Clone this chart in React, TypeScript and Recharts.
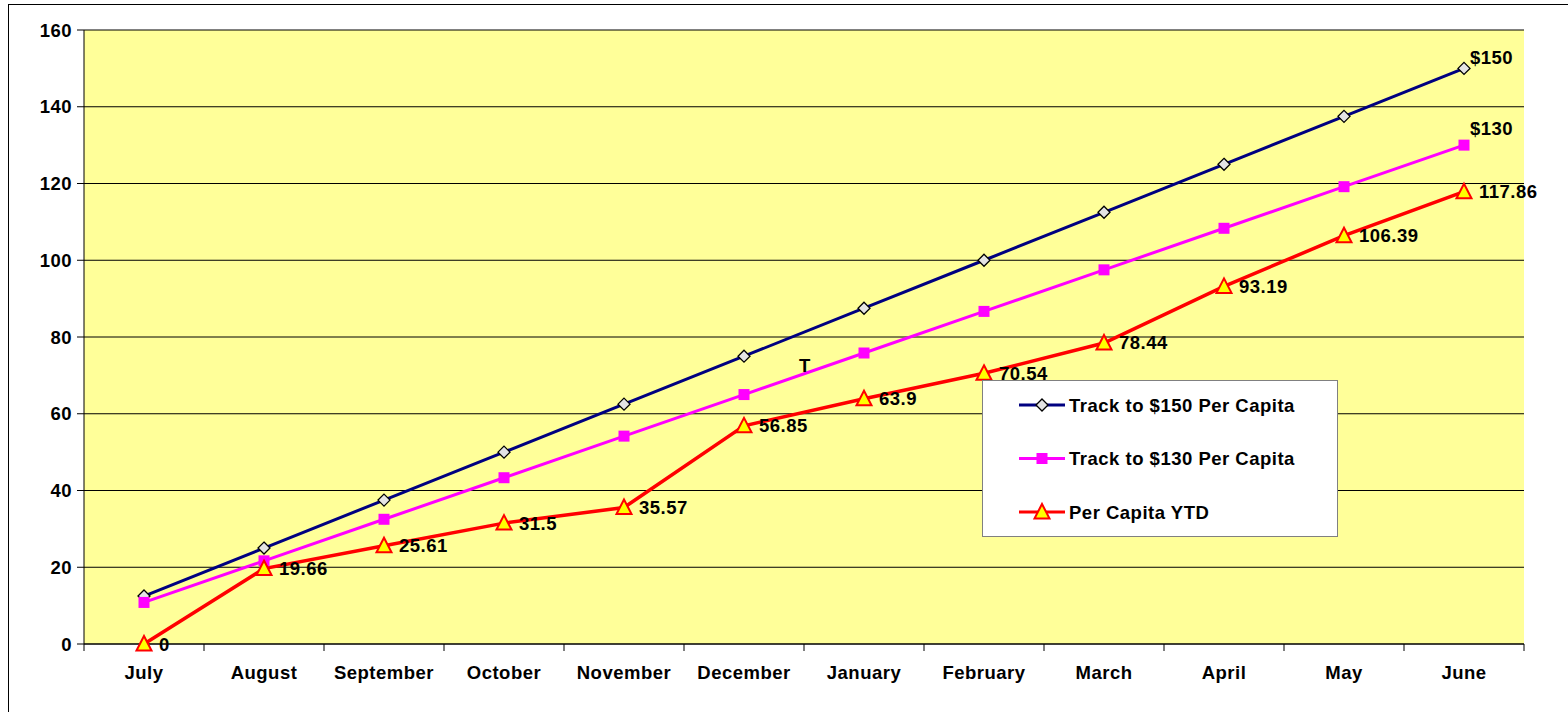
import React from 'react';
import { LineChart, Line, XAxis, YAxis, CartesianGrid, Legend, LabelList } from 'recharts';

// months run July -> June (fiscal year)
const months = ['July', 'August', 'September', 'October', 'November', 'December', 'January', 'February', 'March', 'April', 'May', 'June'];
const track150 = [12.5, 25, 37.5, 50, 62.5, 75, 87.5, 100, 112.5, 125, 137.5, 150];
const track130 = [10.83, 21.67, 32.5, 43.33, 54.17, 65, 75.83, 86.67, 97.5, 108.33, 119.17, 130];
const perCapitaYTD = [0, 19.66, 25.61, 31.5, 35.57, 56.85, 63.9, 70.54, 78.44, 93.19, 106.39, 117.86];
const yTicks = [0, 20, 40, 60, 80, 100, 120, 140, 160];
const endLabel150 = '$150';
const endLabel130 = '$130';
const strayNote = 'T';

const data = months.map((month, i) => ({
  month,
  track150: track150[i],
  track130: track130[i],
  ytd: perCapitaYTD[i],
}));

const W = 1559;
const H = 707;
const MARGIN = { top: 25, right: 44, left: 0, bottom: 38 };
const Y_W = 75;
const PLOT_W = W - MARGIN.left - MARGIN.right - Y_W;
const BAND = PLOT_W / months.length;
const FONT = '"Liberation Sans", Arial, sans-serif';
const txt = { fontFamily: FONT, fontSize: 18.5, fontWeight: 700, fill: '#000', letterSpacing: '0.5px' } as const;

const Diamond = ({ cx, cy }: any) =>
  cx == null ? null : (
    <path d={`M${cx},${cy - 6} L${cx + 6},${cy} L${cx},${cy + 6} L${cx - 6},${cy} Z`} fill="#E4E4E4" stroke="#000" strokeWidth={1.3} />
  );
const Square = ({ cx, cy }: any) =>
  cx == null ? null : <rect x={cx - 5.5} y={cy - 5.5} width={11} height={11} fill="#FF00FF" />;
const Triangle = ({ cx, cy }: any) =>
  cx == null ? null : (
    <path d={`M${cx},${cy - 8} L${cx + 7.5},${cy + 6.5} L${cx - 7.5},${cy + 6.5} Z`} fill="#FFFF00" stroke="#FF0000" strokeWidth={2} />
  );

const series = [
  { key: 'track150', name: 'Track to $150 Per Capita', color: '#000080', Marker: Diamond },
  { key: 'track130', name: 'Track to $130 Per Capita', color: '#FF00FF', Marker: Square },
  { key: 'ytd', name: 'Per Capita YTD', color: '#FF0000', Marker: Triangle },
];

const XTick = ({ x, y, payload, index }: any) => (
  <g>
    <line x1={x - BAND / 2} x2={x - BAND / 2} y1={y} y2={y + 7} stroke="#000" />
    {index === months.length - 1 && <line x1={x + BAND / 2} x2={x + BAND / 2} y1={y} y2={y + 7} stroke="#000" />}
    <text x={x} y={y + 35} textAnchor="middle" style={txt}>{payload.value}</text>
  </g>
);

const YTick = ({ x, y, payload }: any) => (
  <text x={x} y={y + 6.5} textAnchor="end" style={txt}>{payload.value}</text>
);

const pos = (p: any) => {
  const vb = p.viewBox || {};
  return { x: p.x ?? vb.x, y: p.y ?? vb.y };
};

const endLabel = (text: string, values: number[], dy: number) => (p: any) => {
  const last = values.length - 1;
  if (p.index != null ? p.index !== last : p.value !== values[last]) return null;
  const { x, y } = pos(p);
  return <text x={x + 6} y={y + dy} style={txt}>{text}</text>;
};

const ytdLabel = (p: any) => {
  const { x, y } = pos(p);
  return <text x={x + 15} y={y + 6.5} style={txt}>{String(p.value)}</text>;
};

const LegendBox = () => (
  <svg width={356} height={157} style={{ display: 'block' }}>
    <rect x={0.5} y={0.5} width={355} height={156} fill="#fff" stroke="#808080" />
    {series.map((s, i) => {
      const cy = 25 + i * 53.5;
      const M = s.Marker;
      return (
        <g key={s.key}>
          <line x1={37} x2={83} y1={cy} y2={cy} stroke={s.color} strokeWidth={3} />
          <M cx={60} cy={cy} />
          <text x={87} y={cy + 6.5} style={txt}>{s.name}</text>
        </g>
      );
    })}
  </svg>
);

export default function App() {
  return (
    <div style={{ position: 'absolute', left: 8, top: 4, width: W, height: H, borderLeft: '1px solid #000', borderTop: '1px solid #000', background: '#fff' }}>
      <LineChart width={W} height={H} data={data} margin={MARGIN}>
        <CartesianGrid vertical={false} stroke="#000" fill="#FFFF99" fillOpacity={1} />
        <XAxis
          dataKey="month"
          padding={{ left: BAND / 2, right: BAND / 2 }}
          axisLine={{ stroke: '#000' }}
          tickLine={false}
          tickSize={0}
          tickMargin={0}
          tick={<XTick />}
          interval={0}
          height={30}
        />
        <XAxis xAxisId="top" dataKey="month" orientation="top" height={0} tick={false} tickLine={false} axisLine={{ stroke: '#808080' }} />
        <YAxis
          type="number"
          domain={[0, 160]}
          ticks={yTicks}
          width={Y_W}
          tickSize={7}
          tickMargin={5}
          axisLine={{ stroke: '#000' }}
          tickLine={{ stroke: '#000' }}
          tick={<YTick />}
          interval={0}
        />
        <YAxis yAxisId="right" orientation="right" type="number" domain={[0, 160]} width={0} tick={false} tickLine={false} axisLine={{ stroke: '#808080' }} />
        <Line dataKey="track150" name={series[0].name} stroke={series[0].color} strokeWidth={3} dot={<Diamond />} activeDot={false} isAnimationActive={false}>
          <LabelList dataKey="track150" content={endLabel(endLabel150, track150, -4)} />
        </Line>
        <Line dataKey="track130" name={series[1].name} stroke={series[1].color} strokeWidth={3} dot={<Square />} activeDot={false} isAnimationActive={false}>
          <LabelList dataKey="track130" content={endLabel(endLabel130, track130, -10)} />
        </Line>
        <Line dataKey="ytd" name={series[2].name} stroke={series[2].color} strokeWidth={3.5} dot={<Triangle />} activeDot={false} isAnimationActive={false}>
          <LabelList dataKey="ytd" content={ytdLabel} />
        </Line>
        <Legend
          layout="vertical"
          align="center"
          verticalAlign="middle"
          content={() => <LegendBox />}
          wrapperStyle={{ left: 973, top: 375, width: 356, height: 157 }}
        />
      </LineChart>
      <svg style={{ position: 'absolute', left: 790, top: 350, overflow: 'visible' }} width={20} height={20}>
        <text x={0} y={17} style={txt}>{strayNote}</text>
      </svg>
    </div>
  );
}
